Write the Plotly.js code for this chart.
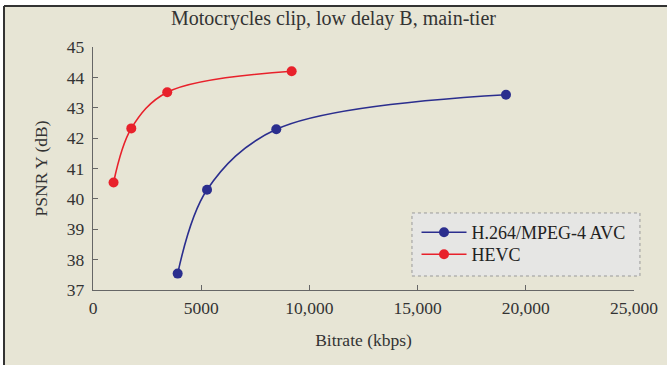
<!DOCTYPE html>
<html><head><meta charset="utf-8">
<script src="https://cdn.plot.ly/plotly-3.0.1.min.js"></script>
<style>html,body{margin:0;padding:0;background:#fff;}#chart{width:667px;height:365px;}</style>
</head><body><div id="chart"></div>
<script>
const avcBitrate = [3913, 5270, 8470, 19085];
const avcPsnr = [37.54, 40.30, 42.29, 43.43];
const hevcBitrate = [950, 1770, 3430, 9180];
const hevcPsnr = [40.54, 42.32, 43.51, 44.20];
const xTicks = [0, 5000, 10000, 15000, 20000, 25000];
const xTickLabels = ['0', '5000', '10,000', '15,000', '20,000', '25,000'];
const yTicks = [37, 38, 39, 40, 41, 42, 43, 44, 45];

const fontFam = '"Liberation Serif", "DejaVu Serif", serif';
const traces = [
  {x: avcBitrate, y: avcPsnr, name: 'H.264/MPEG-4 AVC', mode: 'lines+markers', legend: 'legend',
   line: {color: '#2b2e8e', width: 1.6, shape: 'spline', smoothing: 1},
   marker: {color: '#2b2e8e', size: 10}},
  {x: hevcBitrate, y: hevcPsnr, name: 'HEVC', mode: 'lines+markers', legend: 'legend2',
   line: {color: '#e8212b', width: 1.6, shape: 'spline', smoothing: 1},
   marker: {color: '#e8212b', size: 10}}
];
const legendBase = {xanchor: 'left', yanchor: 'top', bgcolor: 'rgba(0,0,0,0)', borderwidth: 0,
  itemwidth: 45, font: {size: 18, family: fontFam, color: '#222'}};
const layout = {
  width: 667, height: 365,
  margin: {l: 93, r: 33, t: 47, b: 75},
  paper_bgcolor: '#ffffff', plot_bgcolor: 'rgba(0,0,0,0)',
  font: {family: fontFam, size: 17.5, color: '#333'},
  title: {text: 'Motocrycles clip, low delay B, main-tier', x: 0.5, xanchor: 'center', y: 0.95, yanchor: 'middle', font: {size: 20, family: fontFam, color: '#333'}},
  xaxis: {range: [0, 25000], tickvals: xTicks, ticktext: xTickLabels, showgrid: false, zeroline: false,
    showline: true, linecolor: '#666', linewidth: 1.2, ticks: 'inside', ticklen: 5, tickcolor: '#666',
    ticklabelstandoff: 2,
    title: {text: 'Bitrate (kbps)', standoff: 16, font: {size: 17.5}}, tickfont: {size: 17.5}},
  yaxis: {range: [37, 45], tickvals: yTicks, showgrid: false, zeroline: false,
    showline: true, linecolor: '#666', linewidth: 1.2, ticks: 'inside', ticklen: 5, tickcolor: '#666',
    ticklabelstandoff: 4,
    title: {text: 'PSNR Y (dB)', standoff: 14, font: {size: 17.5}}, tickfont: {size: 17.5}},
  showlegend: true,
  legend: Object.assign({x: 0.598, y: 0.3128}, legendBase),
  legend2: Object.assign({x: 0.598, y: 0.222}, legendBase),
  shapes: [
    {type: 'rect', xref: 'paper', yref: 'paper', x0: -0.1645, x1: 1.07, y0: -0.32, y1: 1.1686,
     fillcolor: '#e7e5d5', line: {width: 0}, layer: 'below'},
    {type: 'rect', xref: 'paper', yref: 'paper', x0: 0.5896, x1: 1.011, y0: 0.0576, y1: 0.317,
     fillcolor: '#e6e6e4', line: {color: '#999', width: 1, dash: 'dot'}, layer: 'below'},
    {type: 'line', xref: 'paper', yref: 'paper', x0: -0.1645, x1: 1.07, y0: 1.1686, y1: 1.1686,
     line: {color: '#333', width: 2}},
    {type: 'line', xref: 'paper', yref: 'paper', x0: -0.1645, x1: -0.1645, y0: -0.32, y1: 1.1686,
     line: {color: '#333', width: 2}}
  ]
};
Plotly.newPlot('chart', traces, layout, {displayModeBar: false, staticPlot: true});
</script></body></html>
